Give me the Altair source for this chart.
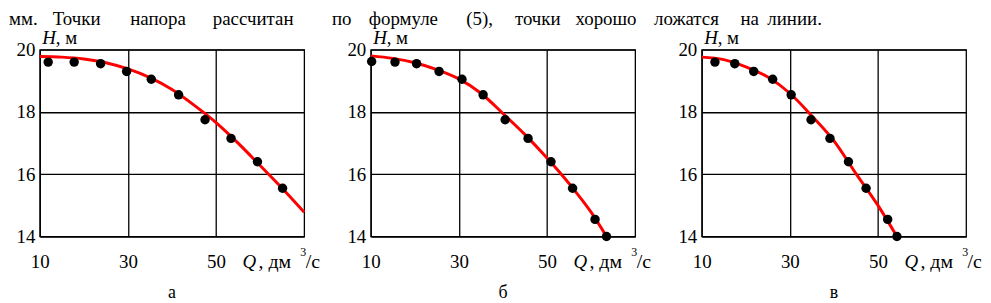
import altair as alt
import pandas as pd

# ---- data ----
# panel "а"
q_a = [11.9, 17.8, 23.8, 29.7, 35.3, 41.5, 47.5, 53.4, 59.4, 65.1]
h_a = [19.6, 19.6, 19.55, 19.3, 19.05, 18.55, 17.75, 17.15, 16.4, 15.55]
curve_q_a = [10, 15, 20, 25, 30, 35, 40, 45, 50, 55, 60, 65, 70]
curve_h_a = [19.78, 19.76, 19.70, 19.58, 19.38, 19.10, 18.72, 18.22, 17.66, 17.0, 16.28, 15.55, 14.78]
# panel "б"
q_b = [10.2, 15.5, 20.4, 25.5, 30.7, 35.5, 40.5, 45.7, 50.9, 55.8, 60.9, 63.5]
h_b = [19.62, 19.6, 19.55, 19.3, 19.05, 18.55, 17.75, 17.15, 16.4, 15.55, 14.55, 14.0]
curve_q_b = [10, 15, 20, 25, 30, 35, 40, 45, 50, 55, 60, 63.5]
curve_h_b = [19.8, 19.72, 19.58, 19.36, 19.06, 18.6, 17.95, 17.27, 16.52, 15.70, 14.78, 14.0]
# panel "в"
q_c = [13.0, 17.5, 21.8, 26.1, 30.3, 34.8, 39.1, 43.3, 47.3, 52.2, 54.3]
h_c = [19.6, 19.55, 19.3, 19.05, 18.55, 17.75, 17.15, 16.4, 15.55, 14.55, 14.0]
curve_q_c = [10, 15, 20, 25, 30, 35, 40, 45, 50, 54.3]
curve_h_c = [19.76, 19.68, 19.45, 19.12, 18.6, 17.87, 17.07, 16.02, 15.0, 14.0]

x_ticks = [10, 30, 50]
y_ticks = [14, 16, 18, 20]
panel_letters = ["а", "б", "в"]
top_words = ["мм.", "Точки", "напора", "рассчитан", "по", "формуле", "(5),",
             "точки", "хорошо", "ложатся", "на", "линии."]

# ---- layout constants (pixels, relative to the first plot area) ----
W, HGT = 266, 188
FONT = "Liberation Serif"
FS = 19
TOP_FS = 19
top_word_x = [-31, 13, 91, 174, 294, 331, 429, 478, 539, 618, 705, 732]
TOP_BASE = -25


def txt(s, x, y, size=FS, italic=False, align="left"):
    kw = dict(font=FONT, fontSize=size, align=align, baseline="alphabetic", color="black")
    if italic:
        kw["fontStyle"] = "italic"
    return alt.Chart(pd.DataFrame({"t": [s]})).mark_text(**kw).encode(
        text="t:N", x=alt.value(x), y=alt.value(y))


def panel(qp, hp, qc, hc, letter, extra=None):
    xs = alt.Scale(domain=[10, 70], nice=False, zero=False)
    ys = alt.Scale(domain=[14, 20], nice=False, zero=False)
    xax = alt.Axis(values=x_ticks, title=None, grid=True, ticks=False, domain=False,
                   labelFlush=False, labelPadding=16, labelFont=FONT, labelFontSize=FS,
                   labelColor="black", gridColor="black", gridWidth=1.3, gridOpacity=1)
    yax = alt.Axis(values=y_ticks, title=None, grid=True, ticks=False, domain=False,
                   labelPadding=5, labelFont=FONT, labelFontSize=FS,
                   labelColor="black", gridColor="black", gridWidth=1.3, gridOpacity=1)
    crv = pd.DataFrame({"Q": qc, "H": hc})
    pts = pd.DataFrame({"Q": qp, "H": hp})
    line = alt.Chart(crv).mark_line(color="#ff0000", strokeWidth=3, interpolate="monotone").encode(
        x=alt.X("Q:Q", scale=xs, axis=xax), y=alt.Y("H:Q", scale=ys, axis=yax))
    dots = alt.Chart(pts).mark_circle(color="black", size=90, opacity=1).encode(
        x=alt.X("Q:Q", scale=xs), y=alt.Y("H:Q", scale=ys))
    layers = [line, dots,
              txt("H", 2.5, -6, italic=True),
              txt(", м", 16, -6),
              txt("Q", 204, 219.5, italic=True),
              txt(", дм", 220, 219.5, size=20),
              txt("3", 262, 208, size=12),
              txt("/с", 267.5, 219.5, size=20),
              txt(letter, W / 2, 250, size=18, align="center")]
    if extra:
        layers += extra
    return alt.layer(*layers).properties(width=W, height=HGT)


top_layers = [txt(w, x, TOP_BASE, size=TOP_FS) for w, x in zip(top_words, top_word_x)]

p1 = panel(q_a, h_a, curve_q_a, curve_h_a, panel_letters[0], extra=top_layers)
p2 = panel(q_b, h_b, curve_q_b, curve_h_b, panel_letters[1])
p3 = panel(q_c, h_c, curve_q_c, curve_h_c, panel_letters[2])

chart = alt.hconcat(p1, p2, p3, spacing=67, bounds="flush").properties(
    padding={"left": 0, "top": 0, "right": 0, "bottom": 0},
    background="white",
).configure(font=FONT).configure_view(stroke="black", strokeWidth=1.3)

chart.save("out.html", embed_options={"renderer": "svg", "actions": False})
